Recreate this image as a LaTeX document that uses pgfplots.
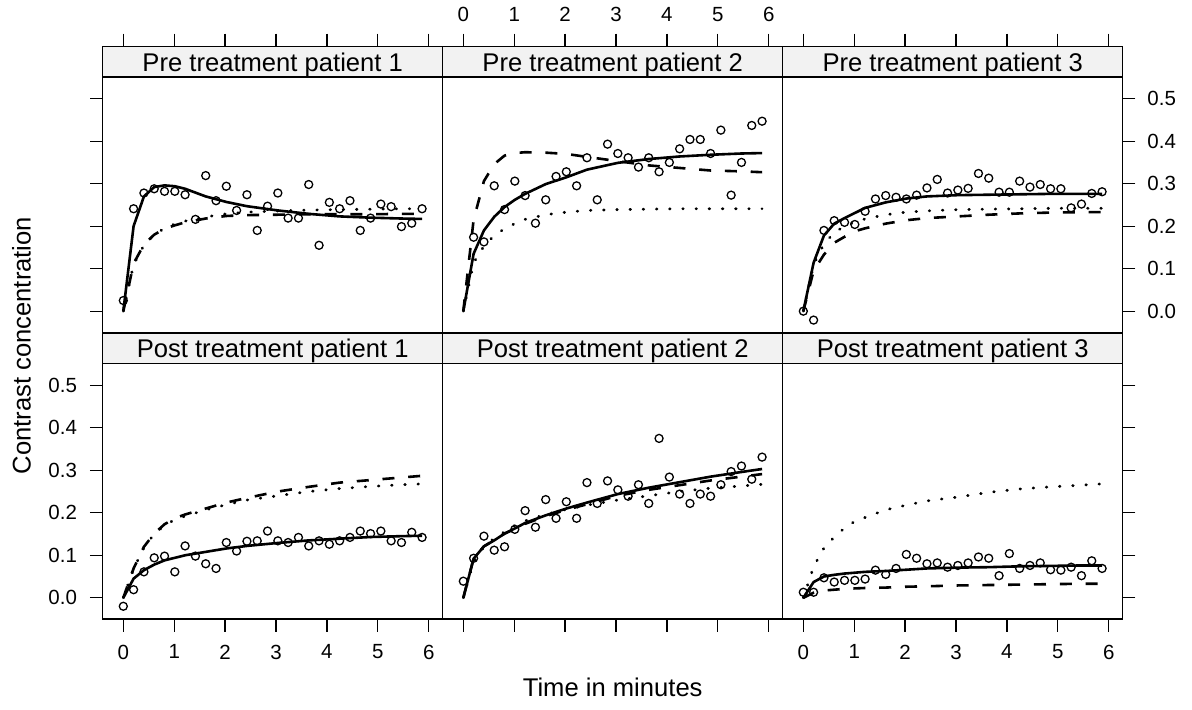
\documentclass[border=0pt]{standalone}
\usepackage{fontspec}
\setmainfont{Liberation Sans}
\usepackage{pgfplots}
\usepackage{pgfplotstable}
\pgfplotsset{compat=1.18}
\definecolor{stripbg}{RGB}{242,242,242}

% observed contrast concentration, one column per patient/period
\pgfplotstableread{
t      p1     p2     p3      p4      p5     p6
0.000  0.025  nan    0.000  -0.020   0.039  0.013
0.202  0.241  0.174 -0.021   0.019   0.093  0.013
0.405  0.278  0.163  0.190   0.061   0.145  0.047
0.607  0.288  0.295  0.213   0.094   0.112  0.037
0.810  0.282  0.239  0.209   0.098   0.120  0.041
1.012  0.282  0.306  0.204   0.061   0.161  0.041
1.214  0.274  0.272  0.235   0.122   0.205  0.044
1.417  0.216  0.207  0.264   0.098   0.166  0.065
1.619  0.319  0.262  0.272   0.080   0.231  0.055
1.822  0.260  0.317  0.268   0.069   0.187  0.069
2.024  0.294  0.328  0.264   0.130   0.226  0.102
2.226  0.237  0.295  0.273   0.110   0.187  0.093
2.429  0.274  0.361  0.290   0.133   0.271  0.080
2.631  0.190  0.262  0.310   0.134   0.222  0.082
2.834  0.247  0.393  0.278   0.157   0.275  0.072
3.036  0.278  0.371  0.285   0.134   0.254  0.076
3.238  0.219  0.361  0.289   0.130   0.239  0.082
3.441  0.219  0.339  0.324   0.142   0.266  0.096
3.643  0.298  0.361  0.313   0.122   0.222  0.093
3.846  0.155  0.328  0.280   0.134   0.375  0.052
4.048  0.256  0.350  0.280   0.126   0.284  0.104
4.250  0.241  0.382  0.306   0.134   0.244  0.069
4.453  0.260  0.404  0.292   0.142   0.222  0.076
4.655  0.190  0.404  0.298   0.157   0.244  0.082
4.858  0.219  0.371  0.288   0.151   0.239  0.066
5.060  0.252  0.426  0.288   0.157   0.266  0.065
5.262  0.246  0.273  0.243   0.134   0.297  0.072
5.465  0.199  0.350  0.252   0.130   0.310  0.052
5.667  0.207  0.437  0.277   0.154   0.279  0.087
5.870  0.241  0.447  0.281   0.142   0.331  0.069
}\obs

% fitted curves: t, solid, dashed, dotted
\pgfplotstableread{
t     s      d      o
0.000 0.000  0.000  0.000
0.202 0.200  0.112  0.110
0.405 0.270  0.157  0.155
0.607 0.292  0.180  0.180
0.810 0.296  0.194  0.195
1.012 0.294  0.202  0.205
1.214 0.288  0.209  0.212
1.619 0.270  0.218  0.222
2.024 0.257  0.224  0.229
2.429 0.247  0.226  0.233
3.036 0.237  0.227  0.236
3.643 0.229  0.228  0.238
4.250 0.223  0.228  0.239
4.858 0.220  0.228  0.240
5.465 0.218  0.229  0.241
5.870 0.217  0.229  0.241
}\fitA
\pgfplotstableread{
t     s      d      o
0.000 0.000  0.000  0.000
0.202 0.135  0.215  0.114
0.405 0.190  0.306  0.153
0.607 0.222  0.346  0.178
0.810 0.245  0.366  0.194
1.012 0.262  0.372  0.206
1.214 0.276  0.374  0.216
1.619 0.299  0.373  0.227
2.024 0.315  0.370  0.233
2.429 0.333  0.363  0.237
3.036 0.349  0.353  0.239
3.643 0.358  0.343  0.240
4.250 0.364  0.337  0.241
4.858 0.368  0.331  0.241
5.465 0.371  0.329  0.241
5.870 0.372  0.327  0.241
}\fitB
\pgfplotstableread{
t     s      d      o
0.000 0.000  0.000  0.000
0.202 0.114  0.095  0.110
0.405 0.178  0.133  0.158
0.607 0.206  0.161  0.185
0.810 0.219  0.175  0.200
1.012 0.231  0.188  0.210
1.214 0.243  0.195  0.217
1.619 0.256  0.206  0.227
2.024 0.265  0.214  0.233
2.429 0.270  0.219  0.236
3.036 0.273  0.223  0.239
3.643 0.274  0.227  0.240
4.250 0.275  0.230  0.241
4.858 0.276  0.232  0.242
5.465 0.276  0.233  0.242
5.870 0.276  0.233  0.242
}\fitC
\pgfplotstableread{
t     s      d      o
0.000 0.000  0.000  0.000
0.202 0.045  0.069  0.068
0.405 0.065  0.120  0.118
0.607 0.078  0.151  0.150
0.810 0.088  0.173  0.170
1.012 0.094  0.187  0.184
1.214 0.100  0.196  0.192
1.619 0.108  0.210  0.207
2.024 0.116  0.224  0.219
2.429 0.122  0.235  0.230
3.036 0.129  0.250  0.240
3.643 0.135  0.261  0.250
4.250 0.139  0.271  0.257
4.858 0.143  0.277  0.262
5.465 0.145  0.283  0.266
5.870 0.146  0.287  0.268
}\fitD
\pgfplotstableread{
t     s      d      o
0.000 0.000  0.000  0.000
0.202 0.092  0.092  0.085
0.405 0.121  0.121  0.120
0.607 0.135  0.136  0.140
0.810 0.151  0.151  0.155
1.012 0.163  0.162  0.170
1.214 0.176  0.174  0.181
1.619 0.194  0.192  0.196
2.024 0.210  0.207  0.208
2.429 0.224  0.220  0.218
3.036 0.244  0.240  0.230
3.643 0.259  0.254  0.240
4.250 0.272  0.265  0.250
4.858 0.285  0.276  0.258
5.465 0.296  0.285  0.263
5.870 0.303  0.291  0.267
}\fitE
\pgfplotstableread{
t     s      d      o
0.000 0.000  0.000  0.000
0.202 0.037  0.012  0.073
0.405 0.050  0.017  0.117
0.607 0.054  0.019  0.143
0.810 0.057  0.021  0.164
1.012 0.059  0.022  0.180
1.214 0.061  0.023  0.189
1.619 0.063  0.024  0.207
2.024 0.066  0.026  0.218
2.429 0.069  0.027  0.228
3.036 0.071  0.029  0.237
3.643 0.072  0.030  0.248
4.250 0.074  0.031  0.256
4.858 0.075  0.032  0.261
5.465 0.076  0.033  0.265
5.870 0.076  0.033  0.268
}\fitF

\pgfplotsset{
  panel/.style={
    scale only axis, width=170pt, height=143pt, anchor=south west,
    xmin=-0.405, xmax=6.275, ymin=-0.05, ymax=0.623,
    axis line style={line width=0.65pt},
    every tick/.style={line width=0.65pt, black},
    major tick length=6.35pt, tick align=outside,
    xtick={0,1,2,3,4,5,6},
    ytick={0,0.1,0.2,0.3,0.4,0.5},
    yticklabels={0.0,0.1,0.2,0.3,0.4,0.5},
    /pgf/number format/assume math mode=true,
    tick label style={font=\fontsize{10.25}{12}\selectfont},
    clip=false,
  },
  obs/.style={only marks, mark=o, mark size=2pt, mark options={line width=0.65pt, black}},
  fitsolid/.style={no marks, black, line width=1.3pt},
  fitdash/.style={no marks, black, line width=1.3pt, dash pattern=on 6pt off 6.9pt},
  fitdot/.style={no marks, black, line width=1.4pt, line cap=round, dash pattern=on 0.3pt off 6.3pt},
}

% panel strip with its title
\newcommand{\strip}[1]{%
  \draw[line width=0.65pt, fill=stripbg] (rel axis cs:0,0.893) rectangle (rel axis cs:1,1);
  \node[anchor=base, inner sep=0pt, font=\fontsize{12.8}{15}\selectfont]
    at ([yshift=3pt]rel axis cs:0.5,0.893) {#1};
}

% one panel: observations and the three fitted curves
\newcommand{\panelplots}[2]{%
  \addplot[obs] table[x=t, y=#1] {\obs};
  \addplot[fitsolid] table[x=t, y=s] {#2};
  \addplot[fitdash] table[x=t, y=d] {#2};
  \addplot[fitdot] table[x=t, y=o] {#2};
}

\begin{document}
\begin{tikzpicture}
% top row: pre treatment
\begin{axis}[panel, at={(51.35pt,-166.2pt)},
  xtick pos=right, xticklabels={}, ytick pos=left, yticklabels={}]
  \panelplots{p1}{\fitA}
  \strip{Pre treatment patient 1}
\end{axis}
\begin{axis}[panel, at={(221.35pt,-166.2pt)},
  xtick pos=right, xticklabel style={yshift=2.5pt}, ytick=\empty]
  \panelplots{p2}{\fitB}
  \strip{Pre treatment patient 2}
\end{axis}
\begin{axis}[panel, at={(391.35pt,-166.2pt)},
  xtick pos=right, xticklabels={}, ytick pos=right, yticklabel style={xshift=2.5pt}]
  \panelplots{p3}{\fitC}
  \strip{Pre treatment patient 3}
\end{axis}
% bottom row: post treatment
\begin{axis}[panel, at={(51.35pt,-309.5pt)},
  xtick pos=left, xticklabel style={yshift=-3pt}, ytick pos=left, yticklabel style={xshift=-3pt}]
  \panelplots{p4}{\fitD}
  \strip{Post treatment patient 1}
\end{axis}
\begin{axis}[panel, at={(221.35pt,-309.5pt)},
  xtick pos=left, xticklabels={}, ytick=\empty]
  \panelplots{p5}{\fitE}
  \strip{Post treatment patient 2}
\end{axis}
\begin{axis}[panel, at={(391.35pt,-309.5pt)},
  xtick pos=left, xticklabel style={yshift=-3pt}, ytick pos=right, yticklabels={}]
  \panelplots{p6}{\fitF}
  \strip{Post treatment patient 3}
\end{axis}
% axis titles
\node[rotate=90, font=\fontsize{12.8}{15}\selectfont, inner sep=0pt] at (10.75pt,-172.8pt) {Contrast concentration};
\node[anchor=base, font=\fontsize{12.8}{15}\selectfont, inner sep=0pt] at (306.35pt,-348.3pt) {Time in minutes};
\pgfresetboundingbox
\path[use as bounding box] (0,0) rectangle (596pt,-354.5pt);
\end{tikzpicture}
\end{document}
